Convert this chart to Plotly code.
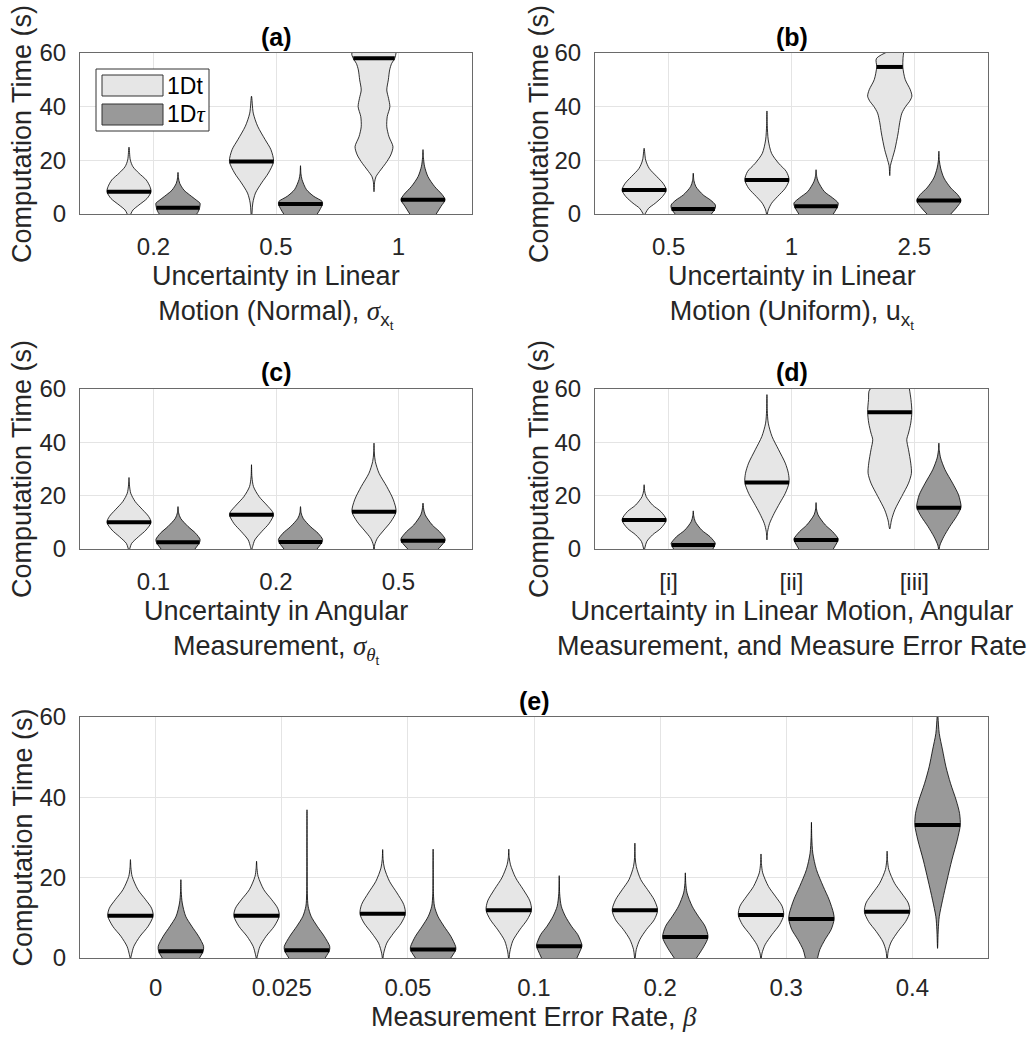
import numpy as np
import plotly.graph_objects as go

# ---------------- data ----------------
# each violin: y levels (s) and relative half-width (0..1) of the density outline, plus median
CAT_A = ["0.2", "0.5", "1"]
CAT_B = ["0.5", "1", "2.5"]
CAT_C = ["0.1", "0.2", "0.5"]
CAT_D = ["[i]", "[ii]", "[iii]"]
CAT_E = ["0", "0.025", "0.05", "0.1", "0.2", "0.3", "0.4"]

A_T_Y = [[0, 1.5, 3.35, 5.8, 8.3, 10.2, 12.7, 15.2, 17.6, 20.1, 24.9],
         [0, 4.1, 7.8, 11.6, 15.3, 19.6, 24, 27.7, 32.7, 37.6, 43.9],
         [8.3, 12, 13.9, 16.4, 18.9, 22, 25.1, 28.8, 32.5, 36.3, 40, 43.1, 46.2, 50, 53.7, 56.1, 58, 60, 62]]
A_T_W = [[0.08, 0.18, 0.45, 0.82, 1.0, 0.95, 0.78, 0.45, 0.18, 0.06, 0],
         [0.02, 0.06, 0.18, 0.46, 0.77, 1.0, 0.88, 0.62, 0.28, 0.08, 0],
         [0, 0.03, 0.09, 0.3, 0.53, 0.76, 0.86, 0.68, 0.58, 0.6, 0.72, 0.66, 0.58, 0.65, 0.71, 0.8, 0.94, 1.0, 1.0]]
A_T_MED = [8.3, 19.6, 58.0]
A_U_Y = [[0, 0.9, 2.36, 4.0, 5.2, 7.1, 8.9, 11.4, 13.5, 15.5],
         [0, 1.6, 3.7, 4.7, 6.6, 9.1, 12.8, 15, 18],
         [0, 2.9, 5.3, 7.2, 10.3, 14, 17.8, 21, 24]]
A_U_W = [[0.85, 0.92, 0.98, 1.0, 0.83, 0.53, 0.27, 0.08, 0.02, 0],
         [0.76, 0.88, 1.0, 0.98, 0.6, 0.27, 0.07, 0.02, 0],
         [0.6, 0.82, 1.0, 0.87, 0.52, 0.22, 0.07, 0.02, 0]]
A_U_MED = [2.36, 3.7, 5.3]

B_T_Y = [[0, 2.1, 4.0, 6.5, 8.9, 11.4, 13.9, 17, 20.1, 24.5],
         [0, 1.5, 4, 6.5, 9.6, 12.7, 15.8, 18.9, 22.6, 27.6, 33, 38.4],
         [14.3, 18, 20.2, 24, 30.2, 34, 37.6, 40.1, 42, 43.9, 46.3, 50.1, 54.8, 58, 62]]
B_T_W = [[0.04, 0.2, 0.5, 0.83, 1.0, 0.86, 0.58, 0.23, 0.07, 0],
         [0.02, 0.06, 0.21, 0.48, 0.83, 1.0, 0.88, 0.53, 0.21, 0.06, 0.015, 0],
         [0, 0.03, 0.1, 0.23, 0.38, 0.45, 0.55, 0.72, 0.9, 1.0, 0.93, 0.7, 0.59, 0.6, 0.6]]
B_T_MED = [8.9, 12.7, 54.8]
B_U_Y = [[0, 1.86, 3.35, 5.2, 7.1, 10.2, 12.5, 15.2],
         [0, 2.9, 4.1, 6.0, 8.4, 12.2, 14, 16.5],
         [0, 2.9, 5.0, 7.2, 9.7, 13.4, 17.1, 20, 23.4]]
B_U_W = [[0.82, 0.98, 1.0, 0.78, 0.45, 0.12, 0.03, 0],
         [0.78, 0.98, 1.0, 0.75, 0.37, 0.09, 0.03, 0],
         [0.54, 0.85, 1.0, 0.85, 0.54, 0.23, 0.08, 0.02, 0]]
B_U_MED = [1.86, 2.9, 5.0]

C_T_Y = [[0, 2.1, 4.6, 7.1, 10, 12.2, 14.7, 17.8, 20.9, 24, 26.8],
         [0, 0.9, 3.4, 6.5, 9.6, 12.8, 14, 16.5, 19.7, 23.4, 27, 31.6],
         [0, 1.5, 4, 7.1, 10.2, 14, 18.4, 23.4, 28.4, 32.8, 36, 39.7]]
C_T_W = [[0.03, 0.12, 0.43, 0.77, 1.0, 0.89, 0.62, 0.28, 0.08, 0.02, 0],
         [0.02, 0.05, 0.15, 0.46, 0.8, 1.0, 0.95, 0.69, 0.34, 0.09, 0.02, 0],
         [0.015, 0.03, 0.15, 0.45, 0.76, 1.0, 0.88, 0.58, 0.23, 0.06, 0.015, 0]]
C_T_MED = [10.0, 12.8, 14.0]
C_U_Y = [[0, 2.5, 3.6, 5.9, 8.4, 11.5, 13.5, 15.9],
         [0, 2.6, 3.6, 5.9, 8.4, 11.5, 13.5, 15.9],
         [0, 3.1, 4, 6.5, 9, 12.8, 15, 17.2]]
C_U_W = [[0.77, 0.98, 1.0, 0.8, 0.46, 0.12, 0.03, 0],
         [0.75, 0.98, 1.0, 0.8, 0.45, 0.12, 0.03, 0],
         [0.69, 1.0, 0.99, 0.75, 0.42, 0.1, 0.03, 0]]
C_U_MED = [2.5, 2.6, 3.1]

D_T_Y = [[0, 2.8, 5.3, 7.8, 10.9, 14, 16.5, 19.7, 22, 24.1],
         [3.4, 6.5, 9.6, 13.4, 17.2, 20.9, 24.9, 28.4, 32.2, 37.2, 42.2, 47.2, 52, 57.9],
         [7.5, 10.9, 14.7, 19.7, 24.7, 28.4, 32.2, 37.2, 41, 43.5, 47.2, 51.3, 56, 60, 62]]
D_T_W = [[0.02, 0.12, 0.38, 0.76, 1.0, 0.76, 0.38, 0.09, 0.02, 0],
         [0, 0.03, 0.12, 0.33, 0.58, 0.83, 1.0, 0.97, 0.83, 0.53, 0.23, 0.06, 0.015, 0],
         [0, 0.08, 0.23, 0.54, 0.85, 0.98, 0.95, 0.85, 0.77, 0.85, 0.95, 1.0, 0.96, 0.89, 0.85]]
D_T_MED = [10.9, 24.9, 51.3]
D_U_Y = [[0, 1.5, 2.1, 4.6, 7.1, 10.3, 12.5, 14.3],
         [0, 3.4, 4.0, 6.5, 9, 12.8, 15, 17.4],
         [0, 1.5, 4.6, 8.4, 12.2, 15.5, 16.5, 20.3, 24.7, 29.7, 34.1, 37, 39.7]]
D_U_W = [[0.89, 0.98, 1.0, 0.76, 0.38, 0.09, 0.02, 0],
         [0.78, 1.0, 0.99, 0.75, 0.42, 0.09, 0.02, 0],
         [0.015, 0.05, 0.22, 0.49, 0.8, 1.0, 1.0, 0.89, 0.62, 0.28, 0.08, 0.02, 0]]
D_U_MED = [1.5, 3.4, 15.5]

E_T_Y = [[0, 0.8, 2.9, 5.4, 7.9, 10.5, 12.4, 14.5, 17, 20.3, 22.5, 24.5],
         [0, 0.8, 2.9, 5.4, 7.9, 10.5, 12.4, 14.5, 17, 20.3, 22.3, 24.1],
         [0, 1.2, 3.7, 6.2, 8.7, 11, 13.3, 16.2, 19.1, 22.4, 24.5, 27],
         [0, 1.5, 4.3, 7.0, 9.6, 11.9, 14.2, 17.1, 20, 23.2, 25, 27.1],
         [0, 2.1, 4.6, 7.1, 9.5, 11.9, 14.5, 17, 19.5, 22.8, 25, 28.6],
         [0, 1.2, 3.3, 5.8, 8.3, 10.7, 12.9, 15.4, 17.8, 21.2, 23.5, 25.9],
         [0, 1.8, 4.0, 6.6, 9.1, 11.5, 13.7, 16.2, 18.6, 22, 24.2, 26.6]]
E_T_W = [[0.015, 0.045, 0.15, 0.42, 0.78, 1.0, 0.93, 0.67, 0.33, 0.075, 0.02, 0],
         [0.015, 0.045, 0.15, 0.42, 0.78, 1.0, 0.93, 0.67, 0.32, 0.07, 0.02, 0],
         [0.015, 0.045, 0.18, 0.48, 0.82, 1.0, 0.93, 0.63, 0.3, 0.075, 0.02, 0],
         [0.015, 0.045, 0.18, 0.48, 0.82, 1.0, 0.93, 0.63, 0.3, 0.075, 0.02, 0],
         [0.015, 0.06, 0.22, 0.51, 0.85, 1.0, 0.85, 0.56, 0.26, 0.06, 0.015, 0],
         [0.015, 0.045, 0.18, 0.48, 0.82, 1.0, 0.93, 0.63, 0.33, 0.075, 0.02, 0],
         [0.015, 0.05, 0.18, 0.48, 0.82, 1.0, 0.93, 0.63, 0.33, 0.075, 0.02, 0]]
E_T_MED = [10.5, 10.5, 11.0, 11.9, 11.9, 10.7, 11.5]
E_U_Y = [[0, 1.66, 2.9, 5.4, 7.9, 10.4, 13.7, 16.5, 19.5],
         [0, 1.9, 2.9, 5.4, 7.9, 10.4, 12.9, 16, 25, 36.9],
         [0, 2.1, 2.9, 5.4, 7.9, 10.4, 12.9, 16, 22, 27.1],
         [0, 2.9, 3.3, 5.8, 7.9, 10.4, 12.9, 16, 20.5],
         [0, 2.9, 5.2, 7.9, 10.4, 12.9, 16.2, 18.5, 21.2],
         [0, 2.1, 4.6, 7.1, 9.7, 11.2, 14.5, 17.8, 22, 26.1, 30, 33.8],
         [2.4, 7, 10.3, 14.4, 19.4, 24.4, 29.4, 33.1, 36, 39.3, 43.5, 47.6, 51.8, 55.9, 60, 62]]
E_U_W = [[0.82, 0.98, 1.0, 0.78, 0.48, 0.21, 0.06, 0.015, 0],
         [0.8, 0.99, 1.0, 0.76, 0.45, 0.18, 0.05, 0.015, 0.006, 0],
         [0.78, 1.0, 0.99, 0.78, 0.48, 0.21, 0.06, 0.015, 0.006, 0],
         [0.78, 1.0, 1.0, 0.82, 0.54, 0.27, 0.09, 0.02, 0],
         [0.49, 0.82, 1.0, 0.87, 0.57, 0.3, 0.075, 0.02, 0],
         [0.27, 0.37, 0.6, 0.87, 1.0, 0.97, 0.78, 0.52, 0.22, 0.06, 0.015, 0],
         [0, 0.03, 0.075, 0.22, 0.42, 0.63, 0.87, 1.0, 0.97, 0.82, 0.57, 0.37, 0.22, 0.075, 0.02, 0.01]]
E_U_MED = [1.66, 1.9, 2.1, 2.9, 5.2, 9.7, 33.1]

Y_TICKS = [0, 20, 40, 60]

# ---------------- style ----------------
W, H = 1032, 1038
FONT = "Liberation Sans"
TXT = "#262626"
C_T = "#e6e6e6"
C_U = "#999999"
HALF = 0.18
OFF = 0.2

fig = go.Figure()


def px_x(p):
    return p / W


def px_y(p):
    return 1 - p / H


def violin(ax, pos, ys, ws, med, color):
    ys = np.asarray(ys, float)
    ws = np.asarray(ws, float) * HALF
    x = np.concatenate([pos + ws, (pos - ws)[-2::-1]])
    y = np.concatenate([ys, ys[-2::-1]])
    fig.add_trace(go.Scatter(x=x, y=y, mode="lines", fill="toself", fillcolor=color,
                             line=dict(color="black", width=0.8, shape="spline", smoothing=0.8),
                             xaxis="x" + ax, yaxis="y" + ax, hoverinfo="skip", showlegend=False))
    mw = float(np.interp(med, ys, ws))
    fig.add_trace(go.Scatter(x=[pos - mw, pos + mw], y=[med, med], mode="lines",
                             line=dict(color="black", width=4), xaxis="x" + ax, yaxis="y" + ax,
                             hoverinfo="skip", showlegend=False))


panels = [
    ("", CAT_A, A_T_Y, A_T_W, A_T_MED, A_U_Y, A_U_W, A_U_MED, (80, 472), (53, 214), 11),
    ("2", CAT_B, B_T_Y, B_T_W, B_T_MED, B_U_Y, B_U_W, B_U_MED, (595, 988), (53, 214), 11),
    ("3", CAT_C, C_T_Y, C_T_W, C_T_MED, C_U_Y, C_U_W, C_U_MED, (80, 472), (389, 549), 11),
    ("4", CAT_D, D_T_Y, D_T_W, D_T_MED, D_U_Y, D_U_W, D_U_MED, (595, 988), (389, 549), 11),
    ("5", CAT_E, E_T_Y, E_T_W, E_T_MED, E_U_Y, E_U_W, E_U_MED, (80, 988), (717, 958), 8),
]

layout_axes = {}
for ax, cats, ty, tw, tm, uy, uw, um, (x0, x1), (y0, y1), sto in panels:
    n = len(cats)
    for i in range(n):
        violin(ax, i + 1 - OFF, ty[i], tw[i], tm[i], C_T)
        violin(ax, i + 1 + OFF, uy[i], uw[i], um[i], C_U)
    xa = dict(domain=[px_x(x0), px_x(x1)], range=[0.4, n + 0.6], anchor="y" + ax,
              tickmode="array", tickvals=list(range(1, n + 1)), ticktext=cats,
              showgrid=True, gridcolor="#e4e4e4", gridwidth=1, zeroline=False,
              showline=True, mirror=True, linecolor="#6a6a6a", linewidth=1,
              ticks="", ticklabelstandoff=sto, automargin=False,
              tickfont=dict(family=FONT, size=24, color=TXT))
    ya = dict(domain=[px_y(y1), px_y(y0)], range=[0, 60], anchor="x" + ax,
              tickmode="array", tickvals=Y_TICKS, ticktext=[str(v) for v in Y_TICKS],
              showgrid=True, gridcolor="#e4e4e4", gridwidth=1, zeroline=False,
              showline=True, mirror=True, linecolor="#6a6a6a", linewidth=1,
              ticks="", ticklabelstandoff=8, automargin=False,
              tickfont=dict(family=FONT, size=24, color=TXT))
    layout_axes["xaxis" + ax] = xa
    layout_axes["yaxis" + ax] = ya

annotations = []


def ann(xp, yp, text, size=27, xanchor="center", yanchor="middle", angle=0, color=TXT):
    annotations.append(dict(x=px_x(xp), y=px_y(yp), xref="paper", yref="paper", text=text,
                            showarrow=False, xanchor=xanchor, yanchor=yanchor, textangle=angle,
                            borderpad=0,
                            font=dict(family=FONT, size=size, color=color)))


# titles
ann(276, 37, "<b>(a)</b>", 25, color="black")
ann(791.5, 37, "<b>(b)</b>", 25, color="black")
ann(276, 372, "<b>(c)</b>", 25, color="black")
ann(791.5, 372, "<b>(d)</b>", 25, color="black")
ann(534, 701, "<b>(e)</b>", 25, color="black")

# y labels
for xp, yp in [(22, 134), (539, 134), (22, 469), (539, 469), (22, 837.5)]:
    ann(xp, yp, "Computation Time (s)", 27, angle=-90)

sig = "<span style=\"font-family:'Liberation Serif'\"><i>σ</i></span>"
th = "<span style=\"font-family:'Liberation Serif'\"><i>θ</i></span>"
be = "<span style=\"font-family:'Liberation Serif'\"><i>β</i></span>"
tau = "<span style=\"font-family:'Liberation Serif'\"><i>τ</i></span>"

ann(276, 260, "Uncertainty in Linear<br>Motion (Normal), " + sig + "<sub>x<sub>t</sub></sub>", 27, yanchor="top")
ann(791.5, 260, "Uncertainty in Linear<br>Motion (Uniform), u<sub>x<sub>t</sub></sub>", 27, yanchor="top")
ann(276, 595, "Uncertainty in Angular<br>Measurement, " + sig + "<sub>" + th + "<sub>t</sub></sub>", 27, yanchor="top")
ann(791.5, 595, "Uncertainty in Linear Motion, Angular<br>Measurement, and Measure Error Rate", 27, yanchor="top")
ann(534, 1001, "Measurement Error Rate, " + be, 27, yanchor="top")

# legend (panel a)
shapes = [
    dict(type="rect", xref="paper", yref="paper", x0=px_x(96), x1=px_x(209), y0=px_y(131), y1=px_y(69),
         line=dict(color="#333333", width=1), fillcolor="white", layer="above"),
    dict(type="rect", xref="paper", yref="paper", x0=px_x(102), x1=px_x(163), y0=px_y(96), y1=px_y(75),
         line=dict(color="#333333", width=1), fillcolor=C_T, layer="above"),
    dict(type="rect", xref="paper", yref="paper", x0=px_x(102), x1=px_x(163), y0=px_y(125), y1=px_y(104),
         line=dict(color="#333333", width=1), fillcolor=C_U, layer="above"),
]
ann(166, 85.5, "1Dt", 23, xanchor="left", color="black")
ann(166, 114.5, "1D" + tau, 23, xanchor="left", color="black")

fig.update_layout(width=W, height=H, margin=dict(l=0, r=0, t=0, b=0, autoexpand=False),
                  paper_bgcolor="white", plot_bgcolor="white", showlegend=False,
                  font=dict(family=FONT, color=TXT), annotations=annotations, shapes=shapes,
                  **layout_axes)

fig.write_html("out.html")
